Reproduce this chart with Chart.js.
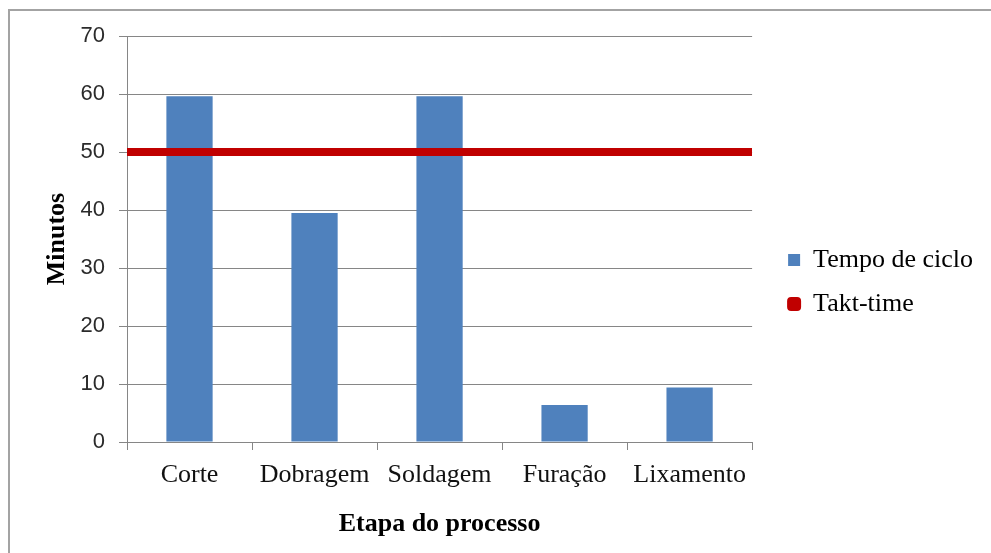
<!DOCTYPE html>
<html lang="pt">
<head>
    <meta charset="UTF-8">
    <title>Tempo de ciclo x Takt-time</title>
    <style>
        body { margin: 0; background: #fff; }
        canvas { display: block; }
    </style>
    <script src="https://cdn.jsdelivr.net/npm/chart.js@4.4.0/dist/chart.umd.min.js"></script>
</head>
<body>
    <canvas id="chart" width="991" height="553"></canvas>
    <script>
        // values
        const etapas = ['Corte', 'Dobragem', 'Soldagem', 'Furação', 'Lixamento'];
        const tempoCiclo = [59.6, 39.5, 59.6, 6.4, 9.4];
        const taktTime = [50, 50];
        const yTicks = [0, 10, 20, 30, 40, 50, 60, 70];

        const blue = '#4F81BD';
        const red = '#C00000';
        const gridColor = '#868686';
        const serif = '"Liberation Serif", "Times New Roman", serif';

        // frame round the picture (only top and left are visible in the original)
        const framePlugin = {
            id: 'frame',
            beforeDraw(chart) {
                const ctx = chart.ctx;
                ctx.save();
                ctx.fillStyle = '#fff';
                ctx.fillRect(0, 0, chart.width, chart.height);
                ctx.strokeStyle = '#a3a3a3';
                ctx.lineWidth = 2;
                ctx.strokeRect(9, 10, chart.width + 20, chart.height + 20);
                ctx.restore();
            }
        };

        new Chart(document.getElementById('chart').getContext('2d'), {
            type: 'bar',
            data: {
                labels: etapas,
                datasets: [{
                    label: 'Tempo de ciclo',
                    data: tempoCiclo,
                    backgroundColor: blue,
                    grouped: false,
                    categoryPercentage: 1,
                    barPercentage: 0.37,
                    order: 1
                }, {
                    type: 'line',
                    label: 'Takt-time',
                    // spans the whole plot: from left edge to right edge of the category axis
                    data: taktTime.map((v, i) => ({ x: i * etapas.length, y: v })),
                    xAxisID: 'x2',
                    borderColor: red,
                    borderWidth: 8,
                    pointRadius: 0,
                    fill: false,
                    order: 0
                }]
            },
            options: {
                responsive: false,
                animation: false,
                devicePixelRatio: 1,
                layout: { padding: { left: 16, top: 11, right: 8, bottom: 0 } },
                plugins: {
                    tooltip: { enabled: false },
                    legend: {
                        position: 'right',
                        maxWidth: 260,
                        labels: {
                            font: { family: serif, size: 26 },
                            color: '#000',
                            boxWidth: 12,
                            boxHeight: 12,
                            padding: 18,
                            useBorderRadius: true,
                            generateLabels: chart => chart.data.datasets.map((ds, i) => ({
                                text: ds.label,
                                datasetIndex: i,
                                fillStyle: i === 0 ? blue : red,
                                strokeStyle: i === 0 ? blue : red,
                                lineWidth: i === 0 ? 0 : 2,
                                borderRadius: i === 0 ? 0 : 3,
                                fontColor: '#000',
                                hidden: false
                            }))
                        }
                    }
                },
                scales: {
                    x: {
                        type: 'category',
                        offset: true,
                        grid: {
                            offset: true,
                            drawOnChartArea: false,
                            drawTicks: true,
                            tickLength: 8,
                            color: gridColor
                        },
                        border: { color: gridColor },
                        ticks: {
                            font: { family: serif, size: 26 },
                            color: '#111',
                            padding: 10,
                            maxRotation: 0,
                            autoSkip: false
                        },
                        title: {
                            display: true,
                            text: 'Etapa do processo',
                            font: { family: serif, size: 26, weight: 'bold' },
                            color: '#000',
                            padding: { top: 0, bottom: 13 }
                        },
                        afterFit: s => { s.height = 111; }
                    },
                    x2: {
                        type: 'linear',
                        position: 'top',
                        offset: false,
                        min: 0,
                        max: etapas.length,
                        grid: { display: false },
                        border: { display: false },
                        ticks: { display: false },
                        afterFit: s => { s.height = 25; }
                    },
                    y: {
                        min: yTicks[0],
                        max: yTicks[yTicks.length - 1],
                        afterBuildTicks: s => { s.ticks = yTicks.map(v => ({ value: v })); },
                        grid: {
                            color: gridColor,
                            tickLength: 8
                        },
                        border: { color: gridColor },
                        ticks: {
                            font: { family: '"Liberation Sans", Arial, sans-serif', size: 22 },
                            color: '#2b2b2b',
                            padding: 14
                        },
                        title: {
                            display: true,
                            text: 'Minutos',
                            font: { family: serif, size: 26, weight: 'bold' },
                            color: '#000',
                            padding: { top: 26, bottom: 0 }
                        },
                        afterFit: s => { s.width = 111; }
                    },
                    y2: {
                        type: 'linear',
                        position: 'right',
                        grid: { display: false },
                        border: { display: false },
                        ticks: { display: false },
                        afterFit: s => { s.width = 18; }
                    }
                }
            },
            plugins: [framePlugin]
        });
    </script>
</body>
</html>
